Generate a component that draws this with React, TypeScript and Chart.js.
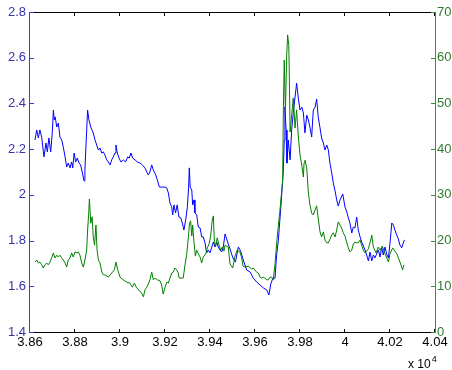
import React, { useEffect, useRef } from "react";
import { Chart, registerables } from "chart.js";

Chart.register(...registerables);

// Tick values
const X_TICKS = [38600, 38800, 39000, 39200, 39400, 39600, 39800, 40000, 40200, 40400];
const LEFT_TICKS = [1.4, 1.6, 1.8, 2.0, 2.2, 2.4, 2.6, 2.8];
const RIGHT_TICKS = [0, 10, 20, 30, 40, 50, 60, 70];
const X_EXPONENT_BASE = "x 10";
const X_EXPONENT_POWER = "4";

// Blue series (left axis)
const BLUE_X = [
  38622, 38630, 38637, 38644, 38652, 38662, 38671, 38677, 38684, 38692, 38699, 38704, 38708, 38712, 38719,
  38726, 38733, 38741, 38748, 38756, 38763, 38770, 38778, 38785, 38790, 38796, 38803, 38810, 38818, 38825,
  38832, 38840, 38844, 38852, 38856, 38862, 38870, 38881, 38889, 38904, 38911, 38919, 38926, 38933, 38941,
  38948, 38956, 38963, 38970, 38978, 38982, 38988, 38996, 39004, 39015, 39025, 39034, 39041, 39049, 39056,
  39067, 39077, 39089, 39099, 39111, 39119, 39126, 39133, 39141, 39148, 39159, 39166, 39175, 39185, 39200,
  39208, 39215, 39222, 39230, 39234, 39240, 39247, 39254, 39262, 39270, 39277, 39284, 39292, 39299, 39305,
  39308, 39312, 39319, 39323, 39329, 39333, 39341, 39348, 39356, 39363, 39370, 39378, 39385, 39392, 39400,
  39408, 39415, 39422, 39430, 39437, 39444, 39452, 39459, 39467, 39478, 39489, 39502, 39513, 39526, 39536,
  39548, 39563, 39578, 39592, 39607, 39622, 39637, 39652, 39662, 39670, 39678, 39689, 39696, 39704, 39707,
  39714, 39721, 39726, 39730, 39733, 39738, 39742, 39748, 39756, 39763, 39770, 39778, 39785, 39792, 39800,
  39808, 39815, 39822, 39830, 39837, 39844, 39852, 39859, 39867, 39874, 39881, 39889, 39896, 39904, 39911,
  39919, 39926, 39933, 39941, 39948, 39956, 39963, 39970, 39978, 39990, 40000, 40008, 40015, 40022, 40030,
  40037, 40044, 40052, 40059, 40067, 40074, 40089, 40096, 40104, 40111, 40119, 40126, 40133, 40148, 40156,
  40163, 40170, 40178, 40185, 40193, 40200, 40208, 40215, 40222, 40230, 40237, 40244, 40252, 40259, 40264,
];
const BLUE_Y = [
  2.240, 2.284, 2.249, 2.284, 2.253, 2.166, 2.227, 2.188, 2.249, 2.188, 2.271, 2.371, 2.328, 2.341, 2.297,
  2.314, 2.253, 2.240, 2.209, 2.166, 2.122, 2.139, 2.118, 2.144, 2.118, 2.183, 2.144, 2.161, 2.139, 2.131,
  2.100, 2.061, 2.109, 2.284, 2.371, 2.328, 2.297, 2.271, 2.240, 2.196, 2.205, 2.183, 2.188, 2.174, 2.153,
  2.144, 2.131, 2.153, 2.166, 2.183, 2.218, 2.183, 2.161, 2.144, 2.153, 2.144, 2.166, 2.161, 2.183, 2.161,
  2.153, 2.144, 2.139, 2.131, 2.118, 2.100, 2.087, 2.100, 2.131, 2.109, 2.087, 2.065, 2.034, 2.034, 2.034,
  2.030, 2.008, 1.964, 1.947, 1.912, 1.956, 1.921, 1.956, 1.903, 1.899, 1.877, 1.846, 1.890, 1.943, 2.034,
  2.118, 2.034, 2.021, 1.956, 1.978, 1.921, 1.912, 1.859, 1.855, 1.816, 1.816, 1.789, 1.746, 1.759, 1.746,
  1.772, 1.794, 1.772, 1.794, 1.772, 1.759, 1.750, 1.772, 1.829, 1.794, 1.763, 1.724, 1.706, 1.772, 1.754,
  1.715, 1.671, 1.663, 1.636, 1.619, 1.606, 1.593, 1.584, 1.562, 1.610, 1.632, 1.636, 1.737, 1.803, 1.846,
  1.934, 2.034, 2.109, 2.240, 2.384, 2.284, 2.139, 2.240, 2.153, 2.284, 2.358, 2.428, 2.489, 2.428, 2.371,
  2.384, 2.358, 2.271, 2.349, 2.328, 2.297, 2.253, 2.371, 2.384, 2.419, 2.341, 2.293, 2.249, 2.227, 2.196,
  2.218, 2.196, 2.139, 2.096, 2.052, 2.017, 1.978, 1.951, 1.978, 2.004, 1.947, 1.925, 1.899, 1.877, 1.833,
  1.859, 1.855, 1.903, 1.846, 1.816, 1.794, 1.759, 1.737, 1.711, 1.750, 1.711, 1.737, 1.724, 1.759, 1.728,
  1.772, 1.737, 1.772, 1.741, 1.724, 1.789, 1.877, 1.868, 1.846, 1.824, 1.807, 1.781, 1.768, 1.789, 1.803,
];

// Green series (right axis)
const GREEN_X = [
  38622, 38630, 38637, 38644, 38652, 38659, 38667, 38674, 38681, 38689, 38696, 38704, 38711, 38719, 38726,
  38733, 38741, 38748, 38756, 38763, 38770, 38778, 38785, 38792, 38800, 38808, 38815, 38822, 38830, 38837,
  38844, 38852, 38856, 38861, 38864, 38870, 38876, 38881, 38887, 38893, 38898, 38904, 38911, 38919, 38926,
  38933, 38948, 38963, 38975, 38982, 38990, 39000, 39015, 39030, 39044, 39055, 39064, 39074, 39084, 39096,
  39104, 39111, 39119, 39126, 39133, 39141, 39148, 39156, 39166, 39178, 39185, 39192, 39200, 39208, 39215,
  39222, 39230, 39237, 39244, 39252, 39259, 39263, 39271, 39281, 39289, 39296, 39304, 39309, 39314, 39319,
  39323, 39329, 39335, 39341, 39348, 39356, 39363, 39370, 39381, 39388, 39396, 39403, 39410, 39415, 39419,
  39425, 39432, 39440, 39448, 39455, 39462, 39467, 39481, 39489, 39501, 39511, 39521, 39533, 39541, 39547,
  39556, 39570, 39585, 39592, 39607, 39615, 39622, 39630, 39637, 39644, 39652, 39659, 39667, 39674, 39681,
  39689, 39696, 39704, 39711, 39719, 39723, 39726, 39730, 39735, 39741, 39745, 39750, 39752, 39756, 39763,
  39770, 39778, 39785, 39792, 39800, 39808, 39815, 39818, 39822, 39830, 39837, 39844, 39852, 39859, 39867,
  39874, 39881, 39889, 39896, 39904, 39911, 39919, 39926, 39933, 39941, 39948, 39956, 39963, 39970, 39978,
  39985, 39992, 40000, 40008, 40015, 40022, 40030, 40037, 40044, 40052, 40059, 40067, 40074, 40081, 40089,
  40096, 40104, 40114, 40119, 40126, 40138, 40148, 40156, 40166, 40178, 40193, 40200, 40212, 40222, 40230,
  40241, 40252, 40256, 40262,
];
const GREEN_Y = [
  15.3, 15.75, 15.1, 15.3, 14.7, 14.0, 14.7, 15.1, 14.7, 15.3, 16.2, 17.3, 16.2, 16.8, 16.4,
  16.8, 16.2, 15.75, 15.1, 14.2, 15.75, 16.2, 17.3, 16.4, 17.5, 17.3, 17.5, 16.8, 15.1, 14.2,
  15.75, 17.9, 22.3, 26.0, 29.1, 23.8, 25.2, 20.8, 19.0, 23.4, 17.9, 15.75, 15.1, 13.1, 12.5,
  12.5, 12.0, 12.9, 13.6, 15.3, 13.6, 12.0, 11.4, 10.9, 10.7, 9.8, 10.7, 9.6, 9.2, 8.5,
  7.7, 9.2, 9.8, 10.5, 11.4, 13.1, 11.4, 11.8, 11.4, 11.2, 10.3, 8.3, 9.8, 10.9, 10.7,
  11.8, 12.9, 13.1, 14.0, 13.6, 12.9, 11.8, 11.8, 11.8, 14.7, 16.8, 20.8, 23.8, 24.3, 21.0,
  23.4, 19.5, 16.6, 17.9, 17.1, 16.4, 15.1, 16.4, 17.1, 18.4, 19.25, 21.0, 24.5, 25.4, 20.1,
  18.6, 20.6, 19.0, 17.9, 18.6, 17.7, 19.0, 18.6, 14.9, 14.0, 16.6, 17.9, 17.5, 16.2, 14.4,
  14.2, 14.4, 13.8, 14.0, 13.1, 12.9, 12.0, 11.8, 12.0, 11.8, 11.4, 11.4, 12.0, 12.0, 11.4,
  14.9, 19.25, 23.4, 26.7, 31.1, 33.25, 48.6, 59.5, 48.1, 60.6, 65.0, 62.8, 58.0, 43.75, 47.5,
  51.2, 44.6, 48.6, 43.1, 38.7, 36.5, 33.9, 37.0, 37.6, 35.9, 30.6, 27.8, 26.0, 25.6, 26.7,
  27.6, 24.9, 21.9, 20.8, 21.9, 20.1, 19.5, 19.5, 20.3, 21.2, 21.7, 20.8, 22.3, 24.1, 23.4,
  22.75, 21.7, 21.0, 19.5, 18.4, 17.5, 17.9, 19.25, 19.7, 19.5, 19.5, 20.1, 19.0, 17.9, 17.3,
  17.7, 18.2, 20.1, 21.2, 18.6, 17.3, 18.6, 17.9, 18.8, 17.1, 15.3, 17.1, 18.4, 17.7, 17.1,
  15.75, 14.2, 13.6, 14.7,
];

const BLUE = "#0000ff";
const GREEN = "#008000";
const LEFT_AXIS_COLOR = "#3d3dc8";
const LEFT_LABEL_COLOR = "#3535a8";
const RIGHT_AXIS_COLOR = "#3d8f3d";
const RIGHT_LABEL_COLOR = "#2f7a2f";
const FONT_FAMILY = "'Liberation Sans', Arial, Helvetica, sans-serif";

const fmtX = (v: number) => String(Number((v / 10000).toFixed(2)));
const fmtY = (v: number) => String(Number(v.toFixed(1)));

const axesPlugin = {
  id: "matlabAxes",
  afterDatasetsDraw(chart: any) {
    const { ctx, chartArea: a, scales } = chart;
    const L = 4;
    ctx.save();
    ctx.lineWidth = 1;

    // top and bottom (black) with inward ticks
    ctx.strokeStyle = "#000";
    ctx.beginPath();
    ctx.moveTo(a.left - 1, a.top + 0.5);
    ctx.lineTo(a.right + 1, a.top + 0.5);
    ctx.moveTo(a.left - 1, a.bottom + 0.5);
    ctx.lineTo(a.right + 1, a.bottom + 0.5);
    for (const v of X_TICKS) {
      const x = Math.round(scales.x.getPixelForValue(v)) - 0.5;
      ctx.moveTo(x, a.top);
      ctx.lineTo(x, a.top + L);
      ctx.moveTo(x, a.bottom + 1);
      ctx.lineTo(x, a.bottom + 1 - L);
    }
    ctx.stroke();

    // left axis (blue)
    ctx.strokeStyle = LEFT_AXIS_COLOR;
    ctx.beginPath();
    ctx.moveTo(a.left - 0.5, a.top);
    ctx.lineTo(a.left - 0.5, a.bottom + 1);
    for (const v of LEFT_TICKS) {
      const y = Math.round(scales.y.getPixelForValue(v)) + 0.5;
      ctx.moveTo(a.left, y);
      ctx.lineTo(a.left + L, y);
    }
    ctx.stroke();

    // right axis (green)
    ctx.strokeStyle = RIGHT_AXIS_COLOR;
    ctx.beginPath();
    ctx.moveTo(a.right + 0.5, a.top);
    ctx.lineTo(a.right + 0.5, a.bottom + 1);
    for (const v of RIGHT_TICKS) {
      const y = Math.round(scales.y1.getPixelForValue(v)) + 0.5;
      ctx.moveTo(a.right, y);
      ctx.lineTo(a.right - L, y);
    }
    ctx.stroke();

    // x multiplier label
    ctx.fillStyle = "#000";
    ctx.textBaseline = "alphabetic";
    ctx.textAlign = "left";
    ctx.font = `12px ${FONT_FAMILY}`;
    const bx = 408;
    const by = 368;
    ctx.fillText(X_EXPONENT_BASE, bx, by);
    const w = ctx.measureText(X_EXPONENT_BASE).width;
    ctx.font = `9px ${FONT_FAMILY}`;
    ctx.fillText(X_EXPONENT_POWER, bx + w + 1, by - 6);
    ctx.restore();
  },
};

export default function App() {
  const ref = useRef<HTMLCanvasElement | null>(null);

  useEffect(() => {
    document.body.style.margin = "0";
    const canvas = ref.current;
    if (!canvas) return;
    const font = { family: FONT_FAMILY, size: 13 };
    const chart = new Chart(canvas, {
      type: "line",
      data: {
        datasets: [
          {
            label: "green",
            data: GREEN_X.map((x, i) => ({ x, y: GREEN_Y[i] })),
            borderColor: GREEN,
            borderWidth: 1,
            pointRadius: 0,
            tension: 0,
            yAxisID: "y1",
            order: 0,
          },
          {
            label: "blue",
            data: BLUE_X.map((x, i) => ({ x, y: BLUE_Y[i] })),
            borderColor: BLUE,
            borderWidth: 1,
            pointRadius: 0,
            tension: 0,
            yAxisID: "y",
            order: 1,
          },
        ],
      },
      options: {
        responsive: false,
        animation: false,
        devicePixelRatio: 1,
        layout: { padding: { top: 12, left: 0, right: 0, bottom: 0 } },
        plugins: { legend: { display: false }, tooltip: { enabled: false } },
        scales: {
          x: {
            type: "linear",
            min: 38600,
            max: 40400,
            grid: { display: false, drawTicks: false },
            border: { display: false },
            afterBuildTicks: (s: any) => {
              s.ticks = X_TICKS.map((value) => ({ value }));
            },
            afterFit: (s: any) => {
              s.height = 38;
            },
            ticks: {
              padding: 3,
              color: "#000",
              font,
              autoSkip: false,
              maxRotation: 0,
              callback: (v: any) => fmtX(Number(v)),
            },
          },
          y: {
            type: "linear",
            position: "left",
            min: 1.4,
            max: 2.8,
            grid: { display: false, drawTicks: false },
            border: { display: false },
            afterBuildTicks: (s: any) => {
              s.ticks = LEFT_TICKS.map((value) => ({ value }));
            },
            afterFit: (s: any) => {
              s.width = 30;
            },
            ticks: {
              padding: 4,
              color: LEFT_LABEL_COLOR,
              font,
              autoSkip: false,
              callback: (v: any) => fmtY(Number(v)),
            },
          },
          y1: {
            type: "linear",
            position: "right",
            min: 0,
            max: 70,
            grid: { display: false, drawTicks: false },
            border: { display: false },
            afterBuildTicks: (s: any) => {
              s.ticks = RIGHT_TICKS.map((value) => ({ value }));
            },
            afterFit: (s: any) => {
              s.width = 17;
            },
            ticks: {
              padding: 2,
              color: RIGHT_LABEL_COLOR,
              font,
              autoSkip: false,
              callback: (v: any) => String(v),
            },
          },
        },
      },
      plugins: [axesPlugin],
    });
    return () => chart.destroy();
  }, []);

  return (
    <div style={{ position: "fixed", left: 0, top: 0, width: 452, height: 370, background: "#fff" }}>
      <canvas ref={ref} width={452} height={370} style={{ display: "block", width: 452, height: 370 }} />
    </div>
  );
}
